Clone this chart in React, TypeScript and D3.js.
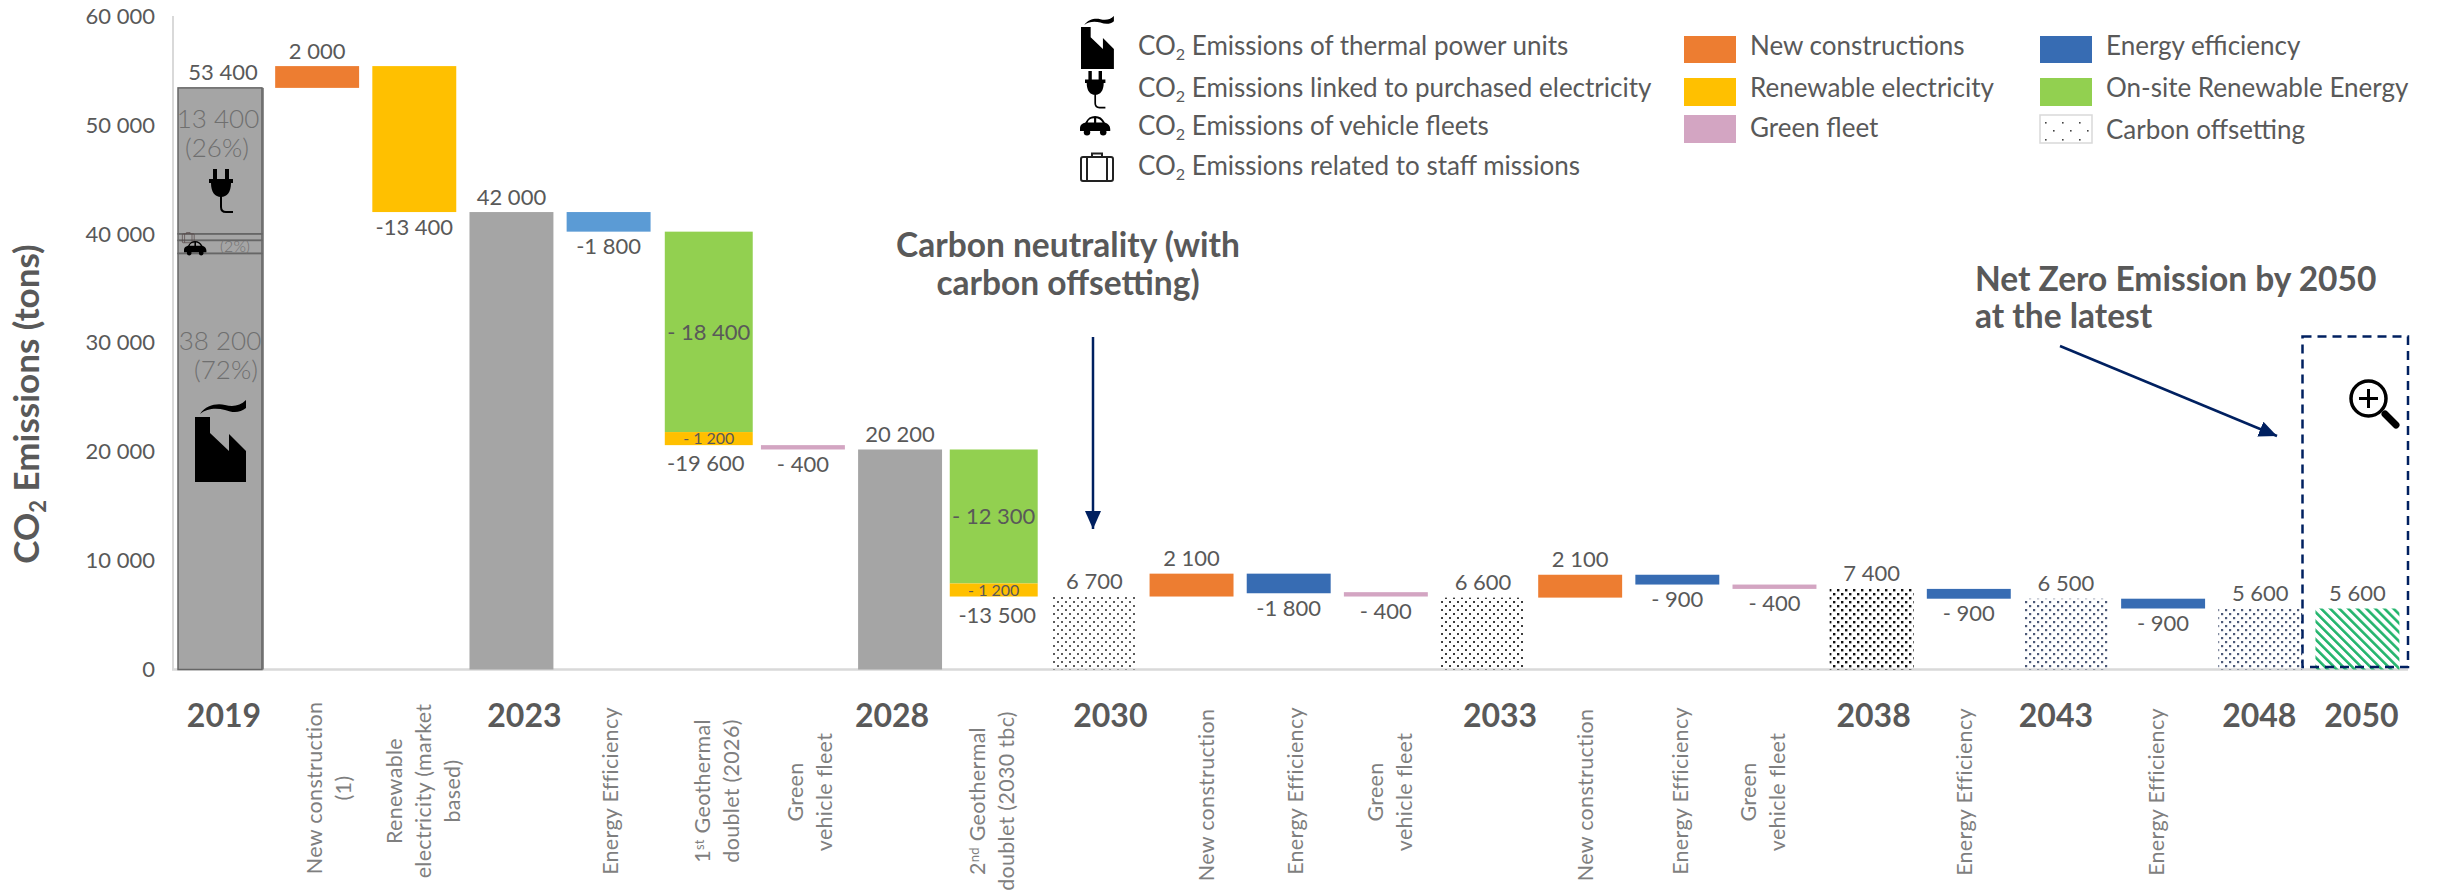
import React from "react";
import * as d3 from "d3";

// Waterfall of CO2 emissions, 2019 to 2050
const categories = [
  "2019", "New construction (1)", "Renewable electricity (market based)", "2023", "Energy Efficiency",
  "1st Geothermal doublet (2026)", "Green vehicle fleet", "2028", "2nd Geothermal doublet (2030 tbc)", "2030",
  "New construction", "Energy Efficiency", "Green vehicle fleet", "2033", "New construction",
  "Energy Efficiency", "Green vehicle fleet", "2038", "Energy Efficiency", "2043",
  "Energy Efficiency", "2048", "2050",
];

const segmentBar = [0, 1, 2, 3, 4, 5, 5, 6, 7, 8, 8, 9, 10, 11, 12, 13, 14, 15, 16, 17, 18, 19, 20, 21, 22];
const segmentLow = [0, 53400, 42000, 0, 40200, 21800, 20600, 20200, 0, 7900, 6700, 0, 6700, 7000, 6700, 0, 6600, 7800, 7400, 0, 6500, 0, 5600, 0, 0];
const segmentHigh = [53400, 55400, 55400, 42000, 42000, 40200, 21800, 20600, 20200, 20200, 7900, 6700, 8800, 8800, 7100, 6600, 8700, 8700, 7800, 7400, 7400, 6500, 6500, 5600, 5600];
const segmentKind = [
  "total", "construction", "renewable", "total", "efficiencyLight", "onsite", "renewable", "fleet", "total", "onsite", "renewable",
  "offsetA", "construction", "efficiency", "fleet", "offsetB", "construction", "efficiency", "fleet", "offsetC", "efficiency", "offsetD", "efficiency", "offsetD", "hatch",
];

const valueLabels = [
  "53 400", "2 000", "-13 400", "42 000", "-1 800", "-19 600", "- 400", "20 200", "-13 500", "6 700",
  "2 100", "-1 800", "- 400", "6 600", "2 100", "- 900", "- 400", "7 400", "- 900", "6 500", "- 900", "5 600", "5 600",
];
const valueLabelSide = [
  "above", "above", "below", "above", "below", "below", "below", "above", "below", "above",
  "above", "below", "below", "above", "above", "below", "below", "above", "below", "above", "below", "above", "above",
];
const insideLabels = ["- 18 400", "- 1 200", "- 12 300", "- 1 200"];
const insideSegments = [5, 6, 9, 10];
const insideLabelSize = [22, 16, 22, 16];

// The 2019 column split by emission source
const sourceLow = [0, 38200, 39400, 40000];
const sourceHigh = [38200, 39400, 40000, 53400];

const yearBars = [0, 3, 7, 9, 13, 17, 19, 21, 22];
const yearNudge = [4, 13, -8, 16, 17, 2, -10, -1, 4];

const rotatedBars = [1, 2, 4, 5, 6, 8, 10, 11, 12, 14, 15, 16, 18, 20];
const rotatedNudge = [12, 10, 2, 12, 8, -5, 15, 7, 5, 6, 4, -11, -4, -6];
const rotatedCentre = [788, 791, 791, 791, 792, 801, 795, 791, 792, 795, 791, 792, 792, 792];
const rotatedLines = [
  ["New construction", "(1)"],
  ["Renewable", "electricity (market", "based)"],
  ["Energy Efficiency"],
  ["1|st| Geothermal", "doublet (2026)"],
  ["Green", "vehicle fleet"],
  ["2|nd|  Geothermal", "doublet (2030 tbc)"],
  ["New construction"],
  ["Energy Efficiency"],
  ["Green", "vehicle fleet"],
  ["New construction"],
  ["Energy Efficiency"],
  ["Green", "vehicle fleet"],
  ["Energy Efficiency"],
  ["Energy Efficiency"],
];

const iconLegend = [
  "Emissions of thermal power units",
  "Emissions linked to purchased electricity",
  "Emissions of vehicle fleets",
  "Emissions related to staff missions",
];
const swatchLegendA = ["New constructions", "Renewable electricity", "Green fleet"];
const swatchKindsA = ["construction", "renewable", "fleet"];
const swatchLegendB = ["Energy efficiency", "On-site Renewable Energy", "Carbon offsetting"];
const swatchKindsB = ["efficiency", "onsite", "offsetLegend"];

const fills: Record<string, string> = {
  total: "#A5A5A5",
  construction: "#ED7D31",
  renewable: "#FFC000",
  efficiencyLight: "#5B9BD5",
  efficiency: "#376CB3",
  onsite: "#92D050",
  fleet: "#D3A5C2",
  offsetA: "url(#dotsA)",
  offsetB: "url(#dotsB)",
  offsetC: "url(#dotsC)",
  offsetD: "url(#dotsD)",
  offsetLegend: "url(#dotsLegend)",
  hatch: "url(#hatch)",
};

const TEXT = "#595959";
const NAVY = "#002060";
const FONT = "Lato, 'Open Sans', sans-serif";

const y = d3.scaleLinear().domain([0, 60000]).range([669.5, 16]);
const x = d3
  .scaleBand<number>()
  .domain(d3.range(categories.length))
  .range([171.4, 2406])
  .paddingInner(0.136)
  .paddingOuter(0.068);
const center = (i: number) => (x(i) as number) + x.bandwidth() / 2;
const tickFormat = d3.formatLocale({ decimal: ".", thousands: " ", grouping: [3], currency: ["", ""] }).format(",");

// The two geothermal columns are slightly wider than the rest
const segmentWiden: Record<number, [number, number]> = { 5: [3, 4], 8: [-3.5, 4] };

function Factory({ tx, ty, k, fill = "#000" }: { tx: number; ty: number; k: number; fill?: string }) {
  return (
    <path
      transform={`translate(${tx},${ty}) scale(${k})`}
      fill={fill}
      d="M0 17H15V33L34 51V34L51 51V82H0Z M5 14C11 5 22 3 30 5C38 7 45 6 51 0V8C45 13 38 13 30 10C22 8 12 8 5 14Z"
    />
  );
}

function Plug({ tx, ty, k }: { tx: number; ty: number; k: number }) {
  return (
    <g transform={`translate(${tx},${ty}) scale(${k})`}>
      <path fill="#000" d="M4 0H8V10H16V0H20V10H24V14H22C22 23 18 28 12 28C6 28 2 23 2 14H0V10H4Z" />
      <path fill="none" stroke="#000" strokeWidth={2} d="M12 27V38Q12 43 17 43H24" />
    </g>
  );
}

function Car({ tx, ty, k }: { tx: number; ty: number; k: number }) {
  return (
    <g transform={`translate(${tx},${ty}) scale(${k})`}>
      <path
        fill="#000"
        fillRule="evenodd"
        d="M0 12C0 8 2 7 5 6C7 2 10 0 14 0C18 0 21 2 23 6C26 7 28 9 28 12V14H0Z M7 6H13V2C10 2 8 3 7 6Z M15 2V6H21C19 3 17 2 15 2Z"
      />
      <circle cx={6.5} cy={15} r={3} fill="#000" />
      <circle cx={21.5} cy={15} r={3} fill="#000" />
    </g>
  );
}

function Suitcase({ tx, ty, k, color = "#222" }: { tx: number; ty: number; k: number; color?: string }) {
  return (
    <g transform={`translate(${tx},${ty}) scale(${k})`} fill="none" stroke={color} strokeWidth={2}>
      <rect x={1} y={5} width={32} height={24} rx={2} />
      <path d="M12 5V1.5H22V5 M7 5V29 M27 5V29" />
    </g>
  );
}

function CO2({ px, py, size, label }: { px: number; py: number; size: number; label: string }) {
  return (
    <text x={px} y={py} fontSize={size} fill={TEXT} fontFamily={FONT}>
      CO
      <tspan dy={5} fontSize={size * 0.62}>2</tspan>
      <tspan dy={-5}> {label}</tspan>
    </text>
  );
}

function RotatedLine({ text, dx, cy }: { text: string; dx: number; cy: number }) {
  const parts = text.split("|");
  return (
    <text
      transform={`translate(${dx},${cy}) rotate(-90)`}
      textAnchor="middle"
      fontSize={21.5}
      letterSpacing={0.3}
      fill="#7F7F7F"
      fontFamily={FONT}
    >
      {parts[0]}
      {parts.length > 1 && (
        <>
          <tspan dy={-6} fontSize={13}>{parts[1]}</tspan>
          <tspan dy={6}>{parts[2]}</tspan>
        </>
      )}
    </text>
  );
}

function Dots({ id, color, size }: { id: string; color: string; size: number }) {
  return (
    <pattern id={id} width={8} height={8} patternUnits="userSpaceOnUse">
      <rect x={1} y={1} width={size} height={size} fill={color} />
      <rect x={5} y={5} width={size} height={size} fill={color} />
    </pattern>
  );
}

export default function App() {
  const labelY = (i: number) => {
    const rows = segmentBar.map((b, s) => (b === i ? s : -1)).filter((s) => s >= 0);
    const top = d3.max(rows, (s) => segmentHigh[s]) as number;
    const bottom = d3.min(rows, (s) => segmentLow[s]) as number;
    // Totals under a thin inner segment sit a little lower so the two labels stay apart
    const clearance = rows.length > 1 ? 26 : 22.5;
    return valueLabelSide[i] === "above" ? y(top) - 7.5 : y(bottom) + clearance;
  };
  const columnLeft = x(0) as number;
  const bw = x.bandwidth();

  return (
    <svg
      width={2440}
      height={892}
      style={{ position: "absolute", left: 0, top: 0, display: "block", background: "#fff" }}
      fontFamily={FONT}
    >
      <defs>
        <Dots id="dotsA" color="#5c5c5c" size={2} />
        <Dots id="dotsB" color="#3c3c3c" size={2} />
        <Dots id="dotsC" color="#111111" size={2.4} />
        <Dots id="dotsD" color="#4d5a78" size={2.2} />
        <pattern id="dotsLegend" width={17} height={17} patternUnits="userSpaceOnUse">
          <rect width={17} height={17} fill="#fff" />
          <rect x={5} y={3} width={1.6} height={1.6} fill="#444" />
          <rect x={13} y={11} width={1.6} height={1.6} fill="#444" />
        </pattern>
        <pattern id="hatch" width={6.4} height={6.4} patternUnits="userSpaceOnUse" patternTransform="rotate(-45)">
          <rect width={2.6} height={6.4} fill="#22B46C" />
        </pattern>
        <marker id="navyHead" markerUnits="userSpaceOnUse" markerWidth={20} markerHeight={18} refX={18} refY={8} orient="auto">
          <path d="M0 0L18 8L0 16Z" fill={NAVY} />
        </marker>
      </defs>

      {/* Axes */}
      <line x1={173} x2={173} y1={y(60000)} y2={y(0)} stroke="#D9D9D9" strokeWidth={2} />
      <line x1={172} x2={2408} y1={y(0)} y2={y(0)} stroke="#D9D9D9" strokeWidth={2.5} />
      {y.ticks(6).map((t) => (
        <text key={t} x={155} y={y(t)} dy="0.35em" textAnchor="end" fontSize={22} fill={TEXT}>
          {tickFormat(t)}
        </text>
      ))}
      <text
        transform="translate(39,404) rotate(-90)"
        textAnchor="middle"
        fontSize={35}
        fontWeight={700}
        fill={TEXT}
      >
        CO
        <tspan dy={7} fontSize={22}>2</tspan>
        <tspan dy={-7}> Emissions (tons)</tspan>
      </text>

      {/* Waterfall columns */}
      <rect x={columnLeft + 3} y={y(53400)} width={bw - 1} height={y(0) - y(53400)} fill="#8A8A8A" />
      {segmentBar.map((b, s) => {
        const [shift, widen] = segmentWiden[b] ?? [0, 0];
        return (
          <rect
            key={s}
            x={(x(b) as number) + shift - widen / 2}
            y={y(segmentHigh[s])}
            width={bw + widen}
            height={y(segmentLow[s]) - y(segmentHigh[s])}
            fill={fills[segmentKind[s]]}
          />
        );
      })}

      {/* 2019 breakdown by source */}
      {sourceLow.map((low, s) => (
        <rect
          key={s}
          x={columnLeft}
          y={y(sourceHigh[s])}
          width={bw}
          height={y(low) - y(sourceHigh[s])}
          fill="none"
          stroke="#666"
          strokeWidth={1.5}
        />
      ))}
      <g fill="#6F6F6F" fontSize={26} textAnchor="middle" fontWeight={300}>
        <text x={218} y={128}>13 400</text>
        <text x={217} y={157}>(26%)</text>
        <text x={220} y={350}>38 200</text>
        <text x={226} y={379}>(72%)</text>
        <text x={235} y={252} fontSize={16}>(2%)</text>
      </g>
      <Plug tx={209} ty={169} k={1} />
      <Suitcase tx={182} ty={232} k={0.37} color="#5a4a4a" />
      <Car tx={184} ty={241} k={0.8} />
      <Factory tx={195} ty={400} k={1} />

      {/* Value labels */}
      {valueLabels.map((label, i) => (
        <text key={i} x={center(i) + (i === 0 ? 3 : 0)} y={labelY(i)} textAnchor="middle" fontSize={22} fill={TEXT}>
          {label}
        </text>
      ))}
      {insideLabels.map((label, k) => {
        const s = insideSegments[k];
        const b = segmentBar[s];
        const [shift] = segmentWiden[b];
        return (
          <text
            key={k}
            x={center(b) + shift}
            y={y((segmentLow[s] + segmentHigh[s]) / 2)}
            dy="0.35em"
            textAnchor="middle"
            fontSize={insideLabelSize[k]}
            fill={TEXT}
          >
            {label}
          </text>
        );
      })}

      {/* Category labels */}
      {yearBars.map((b, k) => (
        <text key={b} x={center(b) + yearNudge[k]} y={727} textAnchor="middle" fontSize={32} fontWeight={700} fill={TEXT}>
          {categories[b]}
        </text>
      ))}
      {rotatedBars.map((b, k) => {
        const lines = rotatedLines[k];
        const mid = center(b) + rotatedNudge[k];
        return (
          <g key={b}>
            {lines.map((line, l) => (
              <RotatedLine key={l} text={line} cy={rotatedCentre[k]} dx={mid + (l - (lines.length - 1) / 2) * 29 + 7} />
            ))}
          </g>
        );
      })}

      {/* Icon legend */}
      <Factory tx={1081} ty={16} k={0.645} />
      <Plug tx={1085} ty={71} k={0.85} />
      <Car tx={1080} ty={116} k={1.08} />
      <Suitcase tx={1080} ty={152} k={1} />
      {iconLegend.map((label, k) => (
        <CO2 key={k} px={1138} py={[55, 97, 135, 175][k]} size={26} label={label} />
      ))}

      {/* Swatch legends */}
      {swatchLegendA.map((label, k) => (
        <g key={label}>
          <rect x={1684} y={[36, 78, 115][k]} width={52} height={[27, 28, 28][k]} fill={fills[swatchKindsA[k]]} />
          <text x={1750} y={[55, 97, 137][k]} fontSize={26} fill={TEXT}>{label}</text>
        </g>
      ))}
      {swatchLegendB.map((label, k) => (
        <g key={label}>
          <rect
            x={2040}
            y={[36, 78, 115][k]}
            width={52}
            height={[27, 28, 28][k]}
            fill={fills[swatchKindsB[k]]}
            stroke={k === 2 ? "#D9D9D9" : "none"}
            strokeWidth={1.5}
          />
          <text x={2106} y={[55, 97, 139][k]} fontSize={26} fill={TEXT}>{label}</text>
        </g>
      ))}

      {/* Callouts */}
      <g fontSize={33.5} fontWeight={700} fill={TEXT}>
        <text x={1068} y={257} textAnchor="middle">Carbon neutrality (with</text>
        <text x={1068} y={295} textAnchor="middle">carbon offsetting)</text>
        <text x={1975} y={291}>Net Zero Emission by 2050</text>
        <text x={1975} y={328}>at the latest</text>
      </g>
      <line x1={1093} y1={337} x2={1093} y2={529} stroke={NAVY} strokeWidth={2.5} markerEnd="url(#navyHead)" />
      <line x1={2060} y1={346} x2={2277} y2={436} stroke={NAVY} strokeWidth={2.5} markerEnd="url(#navyHead)" />
      <rect x={2302.5} y={336.5} width={105.5} height={330.5} fill="none" stroke={NAVY} strokeWidth={2.5} strokeDasharray="9 6" />

      {/* Magnifier */}
      <circle cx={2368.5} cy={398.5} r={17.5} fill="#fff" stroke="#000" strokeWidth={3.5} />
      <path d="M2359 398.5H2378 M2368.5 389V408" stroke="#000" strokeWidth={3} />
      <line x1={2385} y1={414} x2={2396} y2={425} stroke="#000" strokeWidth={7} strokeLinecap="round" />
    </svg>
  );
}
